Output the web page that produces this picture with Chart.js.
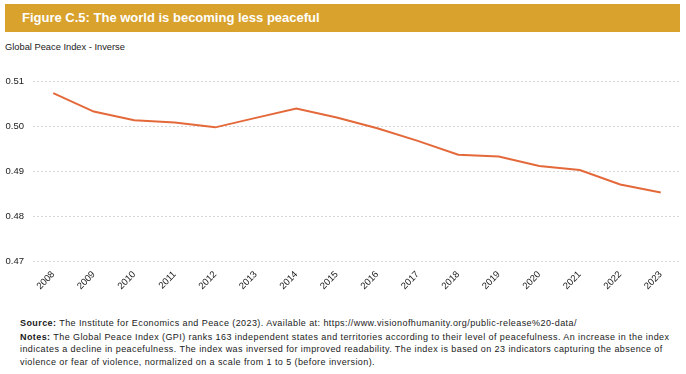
<!DOCTYPE html>
<html>
<head>
<meta charset="utf-8">
<script src="https://cdn.jsdelivr.net/npm/chart.js@4/dist/chart.umd.min.js"></script>
<style>
  html, body { margin: 0; padding: 0; background: #fff; }
  body { width: 686px; height: 374px; position: relative; overflow: hidden; font-family: "Liberation Sans", Arial, sans-serif; color: #1a1a1a; }
  .header { position: absolute; left: 5px; top: 4px; width: 675px; height: 28px; background: #d8a22d; }
  .header span { position: absolute; left: 17px; top: 6px; color: #fff; font-weight: bold; font-size: 13px; }
  .ylabel { position: absolute; left: 5px; top: 42px; font-size: 9.3px; }
  .chart-wrap { position: absolute; left: 0; top: 60px; width: 686px; height: 240px; }
  .notes { position: absolute; left: 20px; top: 317px; font-size: 9px; letter-spacing: 0.42px; line-height: 12.2px; white-space: nowrap; }
  .notes p { margin: 0; }
  .notes p.src { margin-bottom: 2px; }
</style>
</head>
<body>
<div class="header"><span>Figure C.5: The world is becoming less peaceful</span></div>
<div class="ylabel">Global Peace Index - Inverse</div>
<div class="chart-wrap"><canvas id="gpi"></canvas></div>
<div class="notes">
  <p class="src"><b>Source:</b> The Institute for Economics and Peace (2023). Available at: https://www.visionofhumanity.org/public-release%20-data/</p>
  <p><b>Notes:</b> The Global Peace Index (GPI) ranks 163 independent states and territories according to their level of peacefulness. An increase in the index<br>indicates a decline in peacefulness. The index was inversed for improved readability. The index is based on 23 indicators capturing the absence of<br>violence or fear of violence, normalized on a scale from 1 to 5 (before inversion).</p>
</div>
<script>
const years = ['2008', '2009', '2010', '2011', '2012', '2013', '2014', '2015',
  '2016', '2017', '2018', '2019', '2020', '2021', '2022', '2023'];
const gpiInverse = [0.5073, 0.5032, 0.5013, 0.5008, 0.4997, 0.5018, 0.5039, 0.5019,
  0.4995, 0.4967, 0.4936, 0.4932, 0.4911, 0.4902, 0.4870, 0.4852];
const yTicks = [0.47, 0.48, 0.49, 0.50, 0.51];

const tickFont = { family: '"Liberation Sans", Arial, sans-serif', size: 9.5 };

new Chart(document.getElementById('gpi'), {
  type: 'line',
  data: {
    labels: years,
    datasets: [{
      data: gpiInverse,
      borderColor: '#e4693a',
      borderWidth: 2,
      pointRadius: 0,
      tension: 0,
      fill: false
    }]
  },
  options: {
    responsive: true,
    maintainAspectRatio: false,
    animation: false,
    layout: { padding: { top: 21, right: 5, left: 0, bottom: 0 } },
    plugins: { legend: { display: false }, tooltip: { enabled: false } },
    scales: {
      x: {
        offset: true,
        grid: { display: false, drawTicks: false },
        border: { display: false },
        ticks: {
          color: '#1a1a1a', font: tickFont,
          minRotation: 45, maxRotation: 45, padding: 8, autoSkip: false
        },
        afterFit: s => { s.height = 39; }
      },
      y: {
        min: 0.47,
        max: 0.51,
        afterBuildTicks: s => { s.ticks = yTicks.map(v => ({ value: v })); },
        grid: { color: '#d6d6d6', drawTicks: false, lineWidth: 1 },
        border: { display: false, dash: [2, 2] },
        ticks: {
          color: '#1a1a1a', font: tickFont, padding: 9,
          callback: v => v.toFixed(2)
        },
        afterFit: s => { s.width = 33; }
      }
    }
  }
});
</script>
</body>
</html>
